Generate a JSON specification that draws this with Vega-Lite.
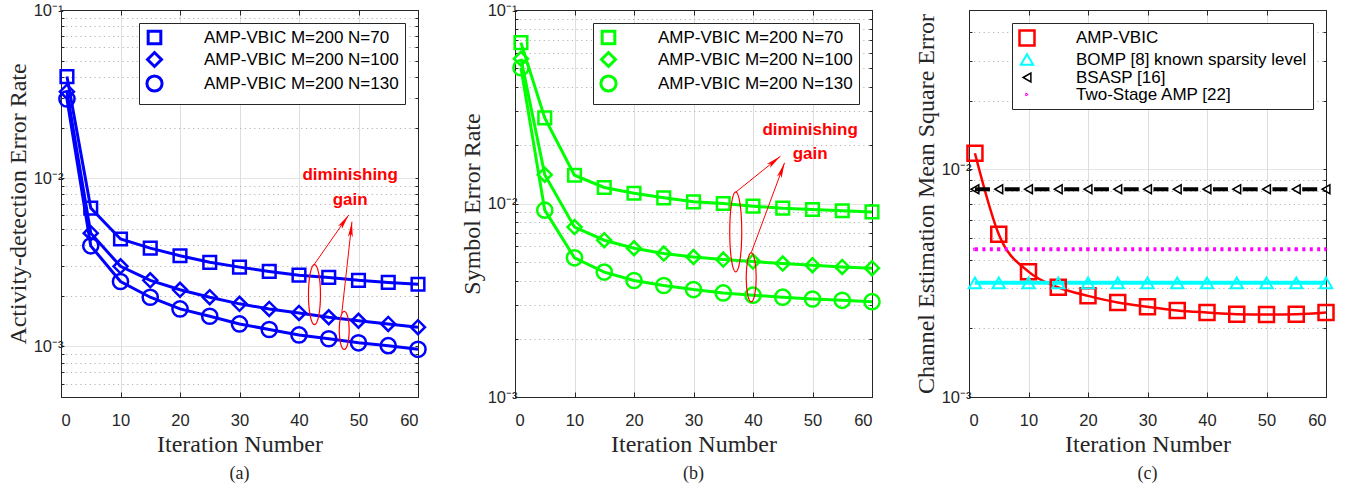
{
  "$schema": "https://vega.github.io/schema/vega-lite/v6.json",
  "padding": {"left": 5, "top": 1, "right": 5, "bottom": 5},
  "spacing": 97,
  "bounds": "flush",
  "resolve": {
    "scale": {"shape": "independent", "size": "independent", "color": "independent", "strokeWidth": "independent"},
    "legend": {"shape": "independent", "color": "independent", "size": "independent", "strokeWidth": "independent"}
  },
  "config": {
    "font": "Liberation Sans",
    "view": {"stroke": "#262626", "strokeWidth": 1},
    "axis": {
      "labelFont": "Liberation Sans", "labelFontSize": 16.5, "labelColor": "#262626",
      "titleFont": "Liberation Serif", "titleFontSize": 24, "titleFontWeight": "normal", "titleColor": "#262626",
      "domainColor": "#262626", "tickColor": "#262626", "gridColor": "#dedede", "labelOverlap": false
    },
    "legend": {
      "labelFont": "Liberation Sans", "labelFontSize": 17, "labelColor": "#000000",
      "strokeColor": "#262626", "fillColor": "#ffffff", "padding": 6,
      "symbolSize": 196, "symbolStrokeWidth": 3, "labelOffset": 40, "rowPadding": -4,
      "orient": "top-right", "offset": 13, "labelLimit": 400
    },
    "title": {"font": "Liberation Serif", "fontSize": 18, "fontWeight": "normal", "color": "#262626", "orient": "bottom", "offset": 8, "anchor": "middle"}
  },
  "datasets": {
    "a": [
      {"i":1,"s":"AMP-VBIC M=200 N=70","v":0.0402},{"i":5,"s":"AMP-VBIC M=200 N=70","v":0.00664},{"i":10,"s":"AMP-VBIC M=200 N=70","v":0.00435},{"i":15,"s":"AMP-VBIC M=200 N=70","v":0.00384},{"i":20,"s":"AMP-VBIC M=200 N=70","v":0.00346},{"i":25,"s":"AMP-VBIC M=200 N=70","v":0.00316},{"i":30,"s":"AMP-VBIC M=200 N=70","v":0.00296},{"i":35,"s":"AMP-VBIC M=200 N=70","v":0.00279},{"i":40,"s":"AMP-VBIC M=200 N=70","v":0.00265},{"i":45,"s":"AMP-VBIC M=200 N=70","v":0.00257},{"i":50,"s":"AMP-VBIC M=200 N=70","v":0.00247},{"i":55,"s":"AMP-VBIC M=200 N=70","v":0.0024},{"i":60,"s":"AMP-VBIC M=200 N=70","v":0.00234},
      {"i":1,"s":"AMP-VBIC M=200 N=100","v":0.0327},{"i":5,"s":"AMP-VBIC M=200 N=100","v":0.00471},{"i":10,"s":"AMP-VBIC M=200 N=100","v":0.00299},{"i":15,"s":"AMP-VBIC M=200 N=100","v":0.00247},{"i":20,"s":"AMP-VBIC M=200 N=100","v":0.00217},{"i":25,"s":"AMP-VBIC M=200 N=100","v":0.00196},{"i":30,"s":"AMP-VBIC M=200 N=100","v":0.00179},{"i":35,"s":"AMP-VBIC M=200 N=100","v":0.00167},{"i":40,"s":"AMP-VBIC M=200 N=100","v":0.00158},{"i":45,"s":"AMP-VBIC M=200 N=100","v":0.00149},{"i":50,"s":"AMP-VBIC M=200 N=100","v":0.00142},{"i":55,"s":"AMP-VBIC M=200 N=100","v":0.00136},{"i":60,"s":"AMP-VBIC M=200 N=100","v":0.0013},
      {"i":1,"s":"AMP-VBIC M=200 N=130","v":0.0296},{"i":5,"s":"AMP-VBIC M=200 N=130","v":0.00396},{"i":10,"s":"AMP-VBIC M=200 N=130","v":0.00243},{"i":15,"s":"AMP-VBIC M=200 N=130","v":0.00196},{"i":20,"s":"AMP-VBIC M=200 N=130","v":0.00167},{"i":25,"s":"AMP-VBIC M=200 N=130","v":0.00151},{"i":30,"s":"AMP-VBIC M=200 N=130","v":0.00136},{"i":35,"s":"AMP-VBIC M=200 N=130","v":0.00126},{"i":40,"s":"AMP-VBIC M=200 N=130","v":0.00117},{"i":45,"s":"AMP-VBIC M=200 N=130","v":0.00111},{"i":50,"s":"AMP-VBIC M=200 N=130","v":0.00105},{"i":55,"s":"AMP-VBIC M=200 N=130","v":0.00101},{"i":60,"s":"AMP-VBIC M=200 N=130","v":0.00096}
    ],
    "b": [
      {"i":1,"s":"AMP-VBIC M=200 N=70","v":0.0678},{"i":5,"s":"AMP-VBIC M=200 N=70","v":0.0277},{"i":10,"s":"AMP-VBIC M=200 N=70","v":0.014},{"i":15,"s":"AMP-VBIC M=200 N=70","v":0.0121},{"i":20,"s":"AMP-VBIC M=200 N=70","v":0.0113},{"i":25,"s":"AMP-VBIC M=200 N=70","v":0.0107},{"i":30,"s":"AMP-VBIC M=200 N=70","v":0.0102},{"i":35,"s":"AMP-VBIC M=200 N=70","v":0.01},{"i":40,"s":"AMP-VBIC M=200 N=70","v":0.00969},{"i":45,"s":"AMP-VBIC M=200 N=70","v":0.00946},{"i":50,"s":"AMP-VBIC M=200 N=70","v":0.00931},{"i":55,"s":"AMP-VBIC M=200 N=70","v":0.00917},{"i":60,"s":"AMP-VBIC M=200 N=70","v":0.00905},
      {"i":1,"s":"AMP-VBIC M=200 N=100","v":0.056},{"i":5,"s":"AMP-VBIC M=200 N=100","v":0.0141},{"i":10,"s":"AMP-VBIC M=200 N=100","v":0.00755},{"i":15,"s":"AMP-VBIC M=200 N=100","v":0.00646},{"i":20,"s":"AMP-VBIC M=200 N=100","v":0.00587},{"i":25,"s":"AMP-VBIC M=200 N=100","v":0.00551},{"i":30,"s":"AMP-VBIC M=200 N=100","v":0.00529},{"i":35,"s":"AMP-VBIC M=200 N=100","v":0.00513},{"i":40,"s":"AMP-VBIC M=200 N=100","v":0.00501},{"i":45,"s":"AMP-VBIC M=200 N=100","v":0.00489},{"i":50,"s":"AMP-VBIC M=200 N=100","v":0.0048},{"i":55,"s":"AMP-VBIC M=200 N=100","v":0.0047},{"i":60,"s":"AMP-VBIC M=200 N=100","v":0.00463},
      {"i":1,"s":"AMP-VBIC M=200 N=130","v":0.0503},{"i":5,"s":"AMP-VBIC M=200 N=130","v":0.00924},{"i":10,"s":"AMP-VBIC M=200 N=130","v":0.00524},{"i":15,"s":"AMP-VBIC M=200 N=130","v":0.00442},{"i":20,"s":"AMP-VBIC M=200 N=130","v":0.004},{"i":25,"s":"AMP-VBIC M=200 N=130","v":0.00377},{"i":30,"s":"AMP-VBIC M=200 N=130","v":0.00359},{"i":35,"s":"AMP-VBIC M=200 N=130","v":0.00345},{"i":40,"s":"AMP-VBIC M=200 N=130","v":0.00336},{"i":45,"s":"AMP-VBIC M=200 N=130","v":0.00328},{"i":50,"s":"AMP-VBIC M=200 N=130","v":0.00321},{"i":55,"s":"AMP-VBIC M=200 N=130","v":0.00316},{"i":60,"s":"AMP-VBIC M=200 N=130","v":0.00311}
    ],
    "c": [
      {"i":1,"s":"AMP-VBIC","v":0.01175},{"i":5,"s":"AMP-VBIC","v":0.00518},{"i":10,"s":"AMP-VBIC","v":0.00355},{"i":15,"s":"AMP-VBIC","v":0.00303},{"i":20,"s":"AMP-VBIC","v":0.00278},{"i":25,"s":"AMP-VBIC","v":0.0026},{"i":30,"s":"AMP-VBIC","v":0.00249},{"i":35,"s":"AMP-VBIC","v":0.0024},{"i":40,"s":"AMP-VBIC","v":0.00235},{"i":45,"s":"AMP-VBIC","v":0.00231},{"i":50,"s":"AMP-VBIC","v":0.0023},{"i":55,"s":"AMP-VBIC","v":0.00231},{"i":60,"s":"AMP-VBIC","v":0.00235},
      {"i":1,"s":"BOMP [8] known sparsity level","v":0.00317},{"i":5,"s":"BOMP [8] known sparsity level","v":0.00317},{"i":10,"s":"BOMP [8] known sparsity level","v":0.00317},{"i":15,"s":"BOMP [8] known sparsity level","v":0.00317},{"i":20,"s":"BOMP [8] known sparsity level","v":0.00317},{"i":25,"s":"BOMP [8] known sparsity level","v":0.00317},{"i":30,"s":"BOMP [8] known sparsity level","v":0.00317},{"i":35,"s":"BOMP [8] known sparsity level","v":0.00317},{"i":40,"s":"BOMP [8] known sparsity level","v":0.00317},{"i":45,"s":"BOMP [8] known sparsity level","v":0.00317},{"i":50,"s":"BOMP [8] known sparsity level","v":0.00317},{"i":55,"s":"BOMP [8] known sparsity level","v":0.00317},{"i":60,"s":"BOMP [8] known sparsity level","v":0.00317},
      {"i":1,"s":"BSASP [16]","v":0.00817},{"i":5,"s":"BSASP [16]","v":0.00817},{"i":10,"s":"BSASP [16]","v":0.00817},{"i":15,"s":"BSASP [16]","v":0.00817},{"i":20,"s":"BSASP [16]","v":0.00817},{"i":25,"s":"BSASP [16]","v":0.00817},{"i":30,"s":"BSASP [16]","v":0.00817},{"i":35,"s":"BSASP [16]","v":0.00817},{"i":40,"s":"BSASP [16]","v":0.00817},{"i":45,"s":"BSASP [16]","v":0.00817},{"i":50,"s":"BSASP [16]","v":0.00817},{"i":55,"s":"BSASP [16]","v":0.00817},{"i":60,"s":"BSASP [16]","v":0.00817},
      {"i":1,"s":"Two-Stage AMP [22]","v":0.00445},{"i":5,"s":"Two-Stage AMP [22]","v":0.00445},{"i":10,"s":"Two-Stage AMP [22]","v":0.00445},{"i":15,"s":"Two-Stage AMP [22]","v":0.00445},{"i":20,"s":"Two-Stage AMP [22]","v":0.00445},{"i":25,"s":"Two-Stage AMP [22]","v":0.00445},{"i":30,"s":"Two-Stage AMP [22]","v":0.00445},{"i":35,"s":"Two-Stage AMP [22]","v":0.00445},{"i":40,"s":"Two-Stage AMP [22]","v":0.00445},{"i":45,"s":"Two-Stage AMP [22]","v":0.00445},{"i":50,"s":"Two-Stage AMP [22]","v":0.00445},{"i":55,"s":"Two-Stage AMP [22]","v":0.00445},{"i":60,"s":"Two-Stage AMP [22]","v":0.00445}
    ],
    "annA": [
      {"id":"t","x":48.6,"y":0.01042,"label":"diminishing"},
      {"id":"t","x":48.6,"y":0.00741,"label":"gain"},
      {"id":"e1","x":42.6,"y":0.00203},
      {"id":"e2","x":47.6,"y":0.001245},
      {"id":"r1","x":42.5,"y":0.00305,"x2":48.35,"y2":0.00604},
      {"id":"r2","x":47.2,"y":0.00158,"x2":48.9,"y2":0.00551}
    ],
    "annB": [
      {"id":"t","x":49.6,"y":0.0241,"label":"diminishing"},
      {"id":"t","x":49.6,"y":0.0181,"label":"gain"},
      {"id":"e1","x":37.1,"y":0.00714},
      {"id":"e2","x":39.7,"y":0.00415},
      {"id":"r1","x":37.1,"y":0.01144,"x2":44.6,"y2":0.01754},
      {"id":"r2","x":39.7,"y":0.00556,"x2":45.3,"y2":0.01622}
    ]
  },
  "hconcat": [
    {
      "width": 357, "height": 387,
      "title": {"text": "(a)"},
      "data": {"name": "a"},
      "resolve": {"axis": {"x": "independent", "y": "independent"}},
      "layer": [
        {
          "mark": {"type": "line", "color": "#0000ff", "strokeWidth": 3},
          "encoding": {
            "x": {"field": "i", "type": "quantitative", "scale": {"domain": [0, 60], "nice": false},
                  "axis": {"orient": "bottom", "values": [0,10,20,30,40,50,60], "grid": true, "tickSize": -5, "labelPadding": 20, "title": "Iteration Number", "titlePadding": 4}},
            "y": {"field": "v", "type": "quantitative", "scale": {"type": "log", "domain": [0.0005, 0.1], "nice": false},
                  "axis": {"orient": "left", "values": [0.0006,0.0007,0.0008,0.0009,0.001,0.002,0.003,0.004,0.005,0.006,0.007,0.008,0.009,0.01,0.02,0.03,0.04,0.05,0.06,0.07,0.08,0.09,0.1],
                           "labelExpr": "datum.value == 0.1 ? '10⁻¹' : datum.value == 0.01 ? '10⁻²' : datum.value == 0.001 ? '10⁻³' : ''",
                           "grid": true,
                           "gridColor": {"condition": {"test": "datum.value == 0.1 || datum.value == 0.01 || datum.value == 0.001", "value": "#dcdcdc"}, "value": "#b4b4b4"},
                           "gridDash": {"condition": {"test": "datum.value == 0.1 || datum.value == 0.01 || datum.value == 0.001", "value": [1, 0]}, "value": [1.2, 3.5]},
                           "tickSize": -3, "labelPadding": 1, "title": "Activity-detection Error Rate", "titlePadding": 3}},
            "detail": {"field": "s"}
          }
        },
        {
          "mark": {"type": "point", "filled": false, "strokeWidth": 2.5, "opacity": 1},
          "encoding": {
            "x": {"field": "i", "type": "quantitative", "scale": {"domain": [0, 60], "nice": false},
                  "axis": {"orient": "top", "values": [0,10,20,30,40,50,60], "grid": false, "labels": false, "tickSize": -5, "title": null}},
            "y": {"field": "v", "type": "quantitative", "scale": {"type": "log", "domain": [0.0005, 0.1], "nice": false},
                  "axis": {"orient": "right", "values": [0.0006,0.0007,0.0008,0.0009,0.001,0.002,0.003,0.004,0.005,0.006,0.007,0.008,0.009,0.01,0.02,0.03,0.04,0.05,0.06,0.07,0.08,0.09,0.1], "grid": false, "labels": false, "tickSize": -3, "title": null}},
            "color": {"field": "s", "type": "nominal",
                      "scale": {"domain": ["AMP-VBIC M=200 N=70","AMP-VBIC M=200 N=100","AMP-VBIC M=200 N=130"], "range": ["#0000ff","#0000ff","#0000ff"]},
                      "legend": {"title": null}},
            "shape": {"field": "s", "type": "nominal",
                      "scale": {"domain": ["AMP-VBIC M=200 N=70","AMP-VBIC M=200 N=100","AMP-VBIC M=200 N=130"], "range": ["square","diamond","circle"]},
                      "legend": null},
            "size": {"field": "s", "type": "nominal",
                     "scale": {"domain": ["AMP-VBIC M=200 N=70","AMP-VBIC M=200 N=100","AMP-VBIC M=200 N=130"], "range": [160, 230, 170]}, "legend": null}
          }
        },
        {
          "data": {"name": "annA"},
          "transform": [{"filter": "datum.id == 't'"}],
          "mark": {"type": "text", "color": "#ff0000", "fontWeight": "bold", "fontSize": 17, "font": "Liberation Sans"},
          "encoding": {
            "x": {"field": "x", "type": "quantitative", "axis": null},
            "y": {"field": "y", "type": "quantitative", "axis": null},
            "text": {"field": "label"}
          }
        },
        {
          "data": {"name": "annA"},
          "transform": [{"filter": "datum.id == 'e1'"}],
          "mark": {"type": "point", "filled": false, "color": "#ff0000", "strokeWidth": 1.2, "opacity": 1, "size": 3600, "shape": "M0,-1A0.2,1,0,1,1,0,1A0.2,1,0,1,1,0,-1Z"},
          "encoding": {
            "x": {"field": "x", "type": "quantitative", "axis": null},
            "y": {"field": "y", "type": "quantitative", "axis": null}
          }
        },
        {
          "data": {"name": "annA"},
          "transform": [{"filter": "datum.id == 'e2'"}],
          "mark": {"type": "point", "filled": false, "color": "#ff0000", "strokeWidth": 1.2, "opacity": 1, "size": 1444, "shape": "M0,-1A0.263,1,0,1,1,0,1A0.263,1,0,1,1,0,-1Z"},
          "encoding": {
            "x": {"field": "x", "type": "quantitative", "axis": null},
            "y": {"field": "y", "type": "quantitative", "axis": null}
          }
        },
        {
          "data": {"name": "annA"},
          "transform": [{"filter": "datum.id == 'r1' || datum.id == 'r2'"}],
          "mark": {"type": "rule", "color": "#ff0000", "strokeWidth": 1},
          "encoding": {
            "x": {"field": "x", "type": "quantitative", "axis": null},
            "y": {"field": "y", "type": "quantitative", "axis": null},
            "x2": {"field": "x2"},
            "y2": {"field": "y2"}
          }
        },
        {
          "data": {"name": "annA"},
          "transform": [{"filter": "datum.id == 'r1'"}],
          "mark": {"type": "point", "filled": true, "color": "#ff0000", "opacity": 1, "size": 196, "angle": 35, "shape": "M0,0L0.35,2.2L0,1.7L-0.35,2.2Z"},
          "encoding": {
            "x": {"field": "x2", "type": "quantitative", "axis": null},
            "y": {"field": "y2", "type": "quantitative", "axis": null}
          }
        },
        {
          "data": {"name": "annA"},
          "transform": [{"filter": "datum.id == 'r2'"}],
          "mark": {"type": "point", "filled": true, "color": "#ff0000", "opacity": 1, "size": 196, "angle": 6, "shape": "M0,0L0.35,2.2L0,1.7L-0.35,2.2Z"},
          "encoding": {
            "x": {"field": "x2", "type": "quantitative", "axis": null},
            "y": {"field": "y2", "type": "quantitative", "axis": null}
          }
        }
      ]
    },
    {
      "width": 357, "height": 387,
      "title": {"text": "(b)"},
      "data": {"name": "b"},
      "resolve": {"axis": {"x": "independent", "y": "independent"}},
      "layer": [
        {
          "mark": {"type": "line", "color": "#00ff00", "strokeWidth": 3},
          "encoding": {
            "x": {"field": "i", "type": "quantitative", "scale": {"domain": [0, 60], "nice": false},
                  "axis": {"orient": "bottom", "values": [0,10,20,30,40,50,60], "grid": true, "tickSize": -5, "labelPadding": 20, "title": "Iteration Number", "titlePadding": 4}},
            "y": {"field": "v", "type": "quantitative", "scale": {"type": "log", "domain": [0.001, 0.1], "nice": false},
                  "axis": {"orient": "left", "values": [0.001,0.002,0.003,0.004,0.005,0.006,0.007,0.008,0.009,0.01,0.02,0.03,0.04,0.05,0.06,0.07,0.08,0.09,0.1],
                           "labelExpr": "datum.value == 0.1 ? '10⁻¹' : datum.value == 0.01 ? '10⁻²' : datum.value == 0.001 ? '10⁻³' : ''",
                           "grid": true,
                           "gridColor": {"condition": {"test": "datum.value == 0.1 || datum.value == 0.01 || datum.value == 0.001", "value": "#dcdcdc"}, "value": "#b4b4b4"},
                           "gridDash": {"condition": {"test": "datum.value == 0.1 || datum.value == 0.01 || datum.value == 0.001", "value": [1, 0]}, "value": [1.2, 3.5]},
                           "tickSize": -3, "labelPadding": 1, "title": "Symbol Error Rate", "titlePadding": 3}},
            "detail": {"field": "s"}
          }
        },
        {
          "mark": {"type": "point", "filled": false, "strokeWidth": 2.5, "opacity": 1},
          "encoding": {
            "x": {"field": "i", "type": "quantitative", "scale": {"domain": [0, 60], "nice": false},
                  "axis": {"orient": "top", "values": [0,10,20,30,40,50,60], "grid": false, "labels": false, "tickSize": -5, "title": null}},
            "y": {"field": "v", "type": "quantitative", "scale": {"type": "log", "domain": [0.001, 0.1], "nice": false},
                  "axis": {"orient": "right", "values": [0.001,0.002,0.003,0.004,0.005,0.006,0.007,0.008,0.009,0.01,0.02,0.03,0.04,0.05,0.06,0.07,0.08,0.09,0.1], "grid": false, "labels": false, "tickSize": -3, "title": null}},
            "color": {"field": "s", "type": "nominal",
                      "scale": {"domain": ["AMP-VBIC M=200 N=70","AMP-VBIC M=200 N=100","AMP-VBIC M=200 N=130"], "range": ["#00ff00","#00ff00","#00ff00"]},
                      "legend": {"title": null}},
            "shape": {"field": "s", "type": "nominal",
                      "scale": {"domain": ["AMP-VBIC M=200 N=70","AMP-VBIC M=200 N=100","AMP-VBIC M=200 N=130"], "range": ["square","diamond","circle"]},
                      "legend": null},
            "size": {"field": "s", "type": "nominal",
                     "scale": {"domain": ["AMP-VBIC M=200 N=70","AMP-VBIC M=200 N=100","AMP-VBIC M=200 N=130"], "range": [160, 230, 170]}, "legend": null}
          }
        },
        {
          "data": {"name": "annB"},
          "transform": [{"filter": "datum.id == 't'"}],
          "mark": {"type": "text", "color": "#ff0000", "fontWeight": "bold", "fontSize": 17, "font": "Liberation Sans"},
          "encoding": {
            "x": {"field": "x", "type": "quantitative", "axis": null},
            "y": {"field": "y", "type": "quantitative", "axis": null},
            "text": {"field": "label"}
          }
        },
        {
          "data": {"name": "annB"},
          "transform": [{"filter": "datum.id == 'e1'"}],
          "mark": {"type": "point", "filled": false, "color": "#ff0000", "strokeWidth": 1.2, "opacity": 1, "size": 6400, "shape": "M0,-1A0.15,1,0,1,1,0,1A0.15,1,0,1,1,0,-1Z"},
          "encoding": {
            "x": {"field": "x", "type": "quantitative", "axis": null},
            "y": {"field": "y", "type": "quantitative", "axis": null}
          }
        },
        {
          "data": {"name": "annB"},
          "transform": [{"filter": "datum.id == 'e2'"}],
          "mark": {"type": "point", "filled": false, "color": "#ff0000", "strokeWidth": 1.2, "opacity": 1, "size": 2401, "shape": "M0,-1A0.204,1,0,1,1,0,1A0.204,1,0,1,1,0,-1Z"},
          "encoding": {
            "x": {"field": "x", "type": "quantitative", "axis": null},
            "y": {"field": "y", "type": "quantitative", "axis": null}
          }
        },
        {
          "data": {"name": "annB"},
          "transform": [{"filter": "datum.id == 'r1' || datum.id == 'r2'"}],
          "mark": {"type": "rule", "color": "#ff0000", "strokeWidth": 1},
          "encoding": {
            "x": {"field": "x", "type": "quantitative", "axis": null},
            "y": {"field": "y", "type": "quantitative", "axis": null},
            "x2": {"field": "x2"},
            "y2": {"field": "y2"}
          }
        },
        {
          "data": {"name": "annB"},
          "transform": [{"filter": "datum.id == 'r1'"}],
          "mark": {"type": "point", "filled": true, "color": "#ff0000", "opacity": 1, "size": 196, "angle": 51, "shape": "M0,0L0.35,2.2L0,1.7L-0.35,2.2Z"},
          "encoding": {
            "x": {"field": "x2", "type": "quantitative", "axis": null},
            "y": {"field": "y2", "type": "quantitative", "axis": null}
          }
        },
        {
          "data": {"name": "annB"},
          "transform": [{"filter": "datum.id == 'r2'"}],
          "mark": {"type": "point", "filled": true, "color": "#ff0000", "opacity": 1, "size": 196, "angle": 20, "shape": "M0,0L0.35,2.2L0,1.7L-0.35,2.2Z"},
          "encoding": {
            "x": {"field": "x2", "type": "quantitative", "axis": null},
            "y": {"field": "y2", "type": "quantitative", "axis": null}
          }
        }
      ]
    },
    {
      "width": 357, "height": 387,
      "title": {"text": "(c)"},
      "data": {"name": "c"},
      "resolve": {"axis": {"x": "independent", "y": "independent"}},
      "layer": [
        {
          "transform": [{"filter": "datum.s == 'AMP-VBIC'"}],
          "mark": {"type": "line", "color": "#ff0000", "strokeWidth": 2.5, "interpolate": "monotone"},
          "encoding": {
            "x": {"field": "i", "type": "quantitative", "scale": {"domain": [0, 60], "nice": false},
                  "axis": {"orient": "bottom", "values": [0,10,20,30,40,50,60], "grid": true, "tickSize": -5, "labelPadding": 20, "title": "Iteration Number", "titlePadding": 4}},
            "y": {"field": "v", "type": "quantitative", "scale": {"type": "log", "domain": [0.001, 0.05], "nice": false},
                  "axis": {"orient": "left", "values": [0.001,0.002,0.003,0.004,0.005,0.006,0.007,0.008,0.009,0.01,0.02,0.03,0.04],
                           "labelExpr": "datum.value == 0.01 ? '10⁻²' : datum.value == 0.001 ? '10⁻³' : ''",
                           "grid": true,
                           "gridColor": {"condition": {"test": "datum.value == 0.01 || datum.value == 0.001", "value": "#dcdcdc"}, "value": "#b4b4b4"},
                           "gridDash": {"condition": {"test": "datum.value == 0.01 || datum.value == 0.001", "value": [1, 0]}, "value": [1.2, 3.5]},
                           "tickSize": -3, "labelPadding": 1, "title": "Channel Estimation Mean Square Error", "titlePadding": 3}}
          }
        },
        {
          "transform": [{"filter": "datum.s == 'BOMP [8] known sparsity level'"}],
          "mark": {"type": "line", "color": "#00ffff", "strokeWidth": 4},
          "encoding": {
            "x": {"field": "i", "type": "quantitative", "axis": null},
            "y": {"field": "v", "type": "quantitative", "axis": null}
          }
        },
        {
          "transform": [{"filter": "datum.s == 'BSASP [16]'"}],
          "mark": {"type": "line", "color": "#000000", "strokeWidth": 4, "strokeDash": [15, 14.75]},
          "encoding": {
            "x": {"field": "i", "type": "quantitative", "axis": null},
            "y": {"field": "v", "type": "quantitative", "axis": null}
          }
        },
        {
          "transform": [{"filter": "datum.s == 'Two-Stage AMP [22]'"}],
          "mark": {"type": "line", "color": "#ff00ff", "strokeWidth": 4, "strokeDash": [3, 4.44]},
          "encoding": {
            "x": {"field": "i", "type": "quantitative", "axis": null},
            "y": {"field": "v", "type": "quantitative", "axis": null}
          }
        },
        {
          "mark": {"type": "point", "filled": false, "opacity": 1},
          "encoding": {
            "x": {"field": "i", "type": "quantitative", "scale": {"domain": [0, 60], "nice": false},
                  "axis": {"orient": "top", "values": [0,10,20,30,40,50,60], "grid": false, "labels": false, "tickSize": -5, "title": null}},
            "y": {"field": "v", "type": "quantitative", "scale": {"type": "log", "domain": [0.001, 0.05], "nice": false},
                  "axis": {"orient": "right", "values": [0.001,0.002,0.003,0.004,0.005,0.006,0.007,0.008,0.009,0.01,0.02,0.03,0.04], "grid": false, "labels": false, "tickSize": -3, "title": null}},
            "color": {"field": "s", "type": "nominal",
                      "scale": {"domain": ["AMP-VBIC","BOMP [8] known sparsity level","BSASP [16]","Two-Stage AMP [22]"], "range": ["#ff0000","#00ffff","#000000","#ff00ff"]},
                      "legend": {"title": null}},
            "shape": {"field": "s", "type": "nominal",
                      "scale": {"domain": ["AMP-VBIC","BOMP [8] known sparsity level","BSASP [16]","Two-Stage AMP [22]"], "range": ["square","triangle-up","triangle-left","triangle-right"]},
                      "legend": null},
            "size": {"field": "s", "type": "nominal",
                     "scale": {"domain": ["AMP-VBIC","BOMP [8] known sparsity level","BSASP [16]","Two-Stage AMP [22]"], "range": [225, 8, 25, 25]}, "legend": null},
            "strokeWidth": {"field": "s", "type": "nominal",
                     "scale": {"domain": ["AMP-VBIC","BOMP [8] known sparsity level","BSASP [16]","Two-Stage AMP [22]"], "range": [2.5, 1, 1, 1]}, "legend": null}
          }
        }
      ]
    }
  ]
}
